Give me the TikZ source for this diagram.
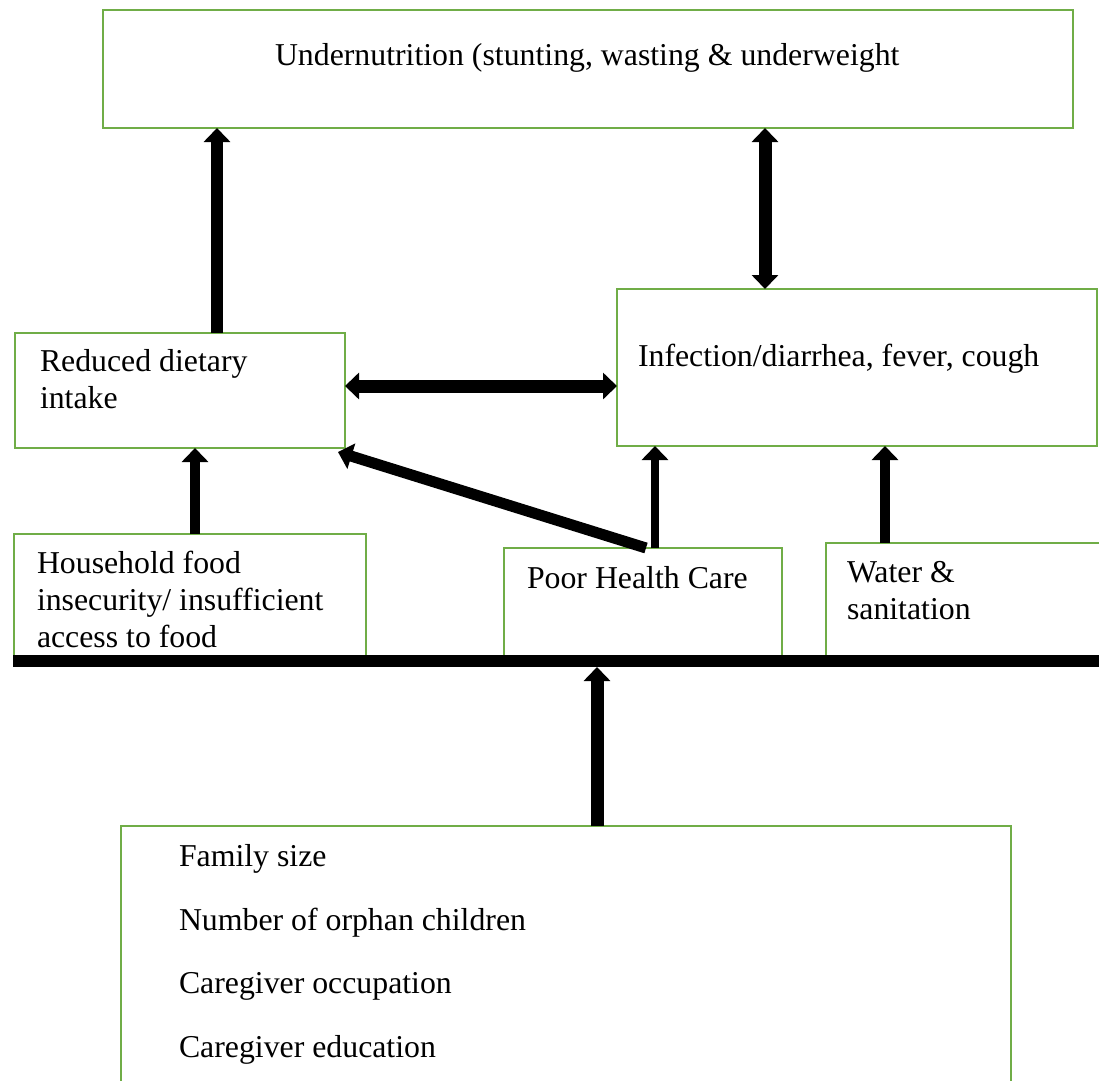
\documentclass[tikz,border=0pt]{standalone}
\usepackage{fontspec}
\setmainfont{Liberation Serif}
\usetikzlibrary{arrows.meta}
\definecolor{boxgreen}{RGB}{112,173,71}
\begin{document}
\begin{tikzpicture}[x=1pt,y=-1pt,
  box/.style={draw=boxgreen,line width=2.5pt,rectangle,inner sep=0pt,outer sep=0pt,anchor=north west},
  lbl/.style={inner sep=0pt,outer sep=0pt,anchor=base west,align=left,font=\fontsize{31.8}{36.6}\selectfont},
  tipA/.tip={Triangle[width=26pt,length=14pt]},
  fat/.style={line width=12pt,-tipA},
  fatboth/.style={line width=12pt,tipA-tipA},
  barline/.style={line width=12pt}
]
\useasboundingbox (0,0) rectangle (1099,1080);
\clip (0,0) rectangle (1099,1080);
\fill[white] (0,0) rectangle (1099,1080);

% boxes
\node[box,minimum width=970pt,minimum height=118pt] (top) at (103,10) {};
\node[box,minimum width=330pt,minimum height=115pt] (reduced) at (15,333) {};
\node[box,minimum width=480pt,minimum height=157pt] (infect) at (617,289) {};
\node[box,minimum width=352pt,minimum height=126pt] (house) at (14,534) {};
\node[box,minimum width=278pt,minimum height=112pt] (poor) at (504,548) {};
\node[box,minimum width=300pt,minimum height=117pt] (water) at (826,543) {};
\node[box,minimum width=890pt,minimum height=300pt] (family) at (121,826) {};

% texts (multi-line nodes: base anchor is the baseline of the last line)
\node[lbl] (tUnder) at (275,65) {Undernutrition (stunting, wasting \& underweight};
\node[lbl] (tReduced) at (40,408) {Reduced dietary\\intake};
\node[lbl] (tInfect) at (638,366) {Infection/diarrhea, fever, cough};
\node[lbl] (tHouse) at (37,647) {Household food\\insecurity/ insufficient\\access to food};
\node[lbl] (tPoor) at (527,588) {Poor Health Care};
\node[lbl] (tWater) at (847,619) {Water \&\\sanitation};
\node[lbl,font=\fontsize{31.8}{63.5}\selectfont] (tFam) at (179,1057) {Family size\\Number of orphan children\\Caregiver occupation\\Caregiver education};

% helper coordinates
\coordinate (xa) at (217,0);
\coordinate (xb) at (765,0);
\coordinate (yc) at (0,386);
\coordinate (xd) at (195,0);
\coordinate (xe) at (646,0);
\coordinate (xf) at (655,0);
\coordinate (xg) at (885,0);
\coordinate (xh) at (597,0);
\coordinate (barL) at (13,661);
\coordinate (barR) at (1099,661);
\coordinate (diagEnd) at (338,452);

% bar
\draw[barline] (barL) -- (barR);

% connectors
\draw[fat] (reduced.north -| xa) -- (top.south -| xa);
\draw[fatboth,line width=13pt] (top.south -| xb) -- (infect.north -| xb);
\draw[fatboth,line width=13pt] (reduced.east |- yc) -- (infect.west |- yc);
\draw[fat,line width=10pt] (house.north -| xd) -- (reduced.south -| xd);
\draw[fat,line width=11pt] (poor.north -| xe) -- (diagEnd);
\draw[fat,line width=8pt] (poor.north -| xf) -- (infect.south -| xf);
\draw[fat,line width=10pt] (water.north -| xg) -- (infect.south -| xg);
\draw[fat,line width=13pt] (family.north -| xh) -- ([yshift=-6pt]barL -| xh);
\end{tikzpicture}
\end{document}
